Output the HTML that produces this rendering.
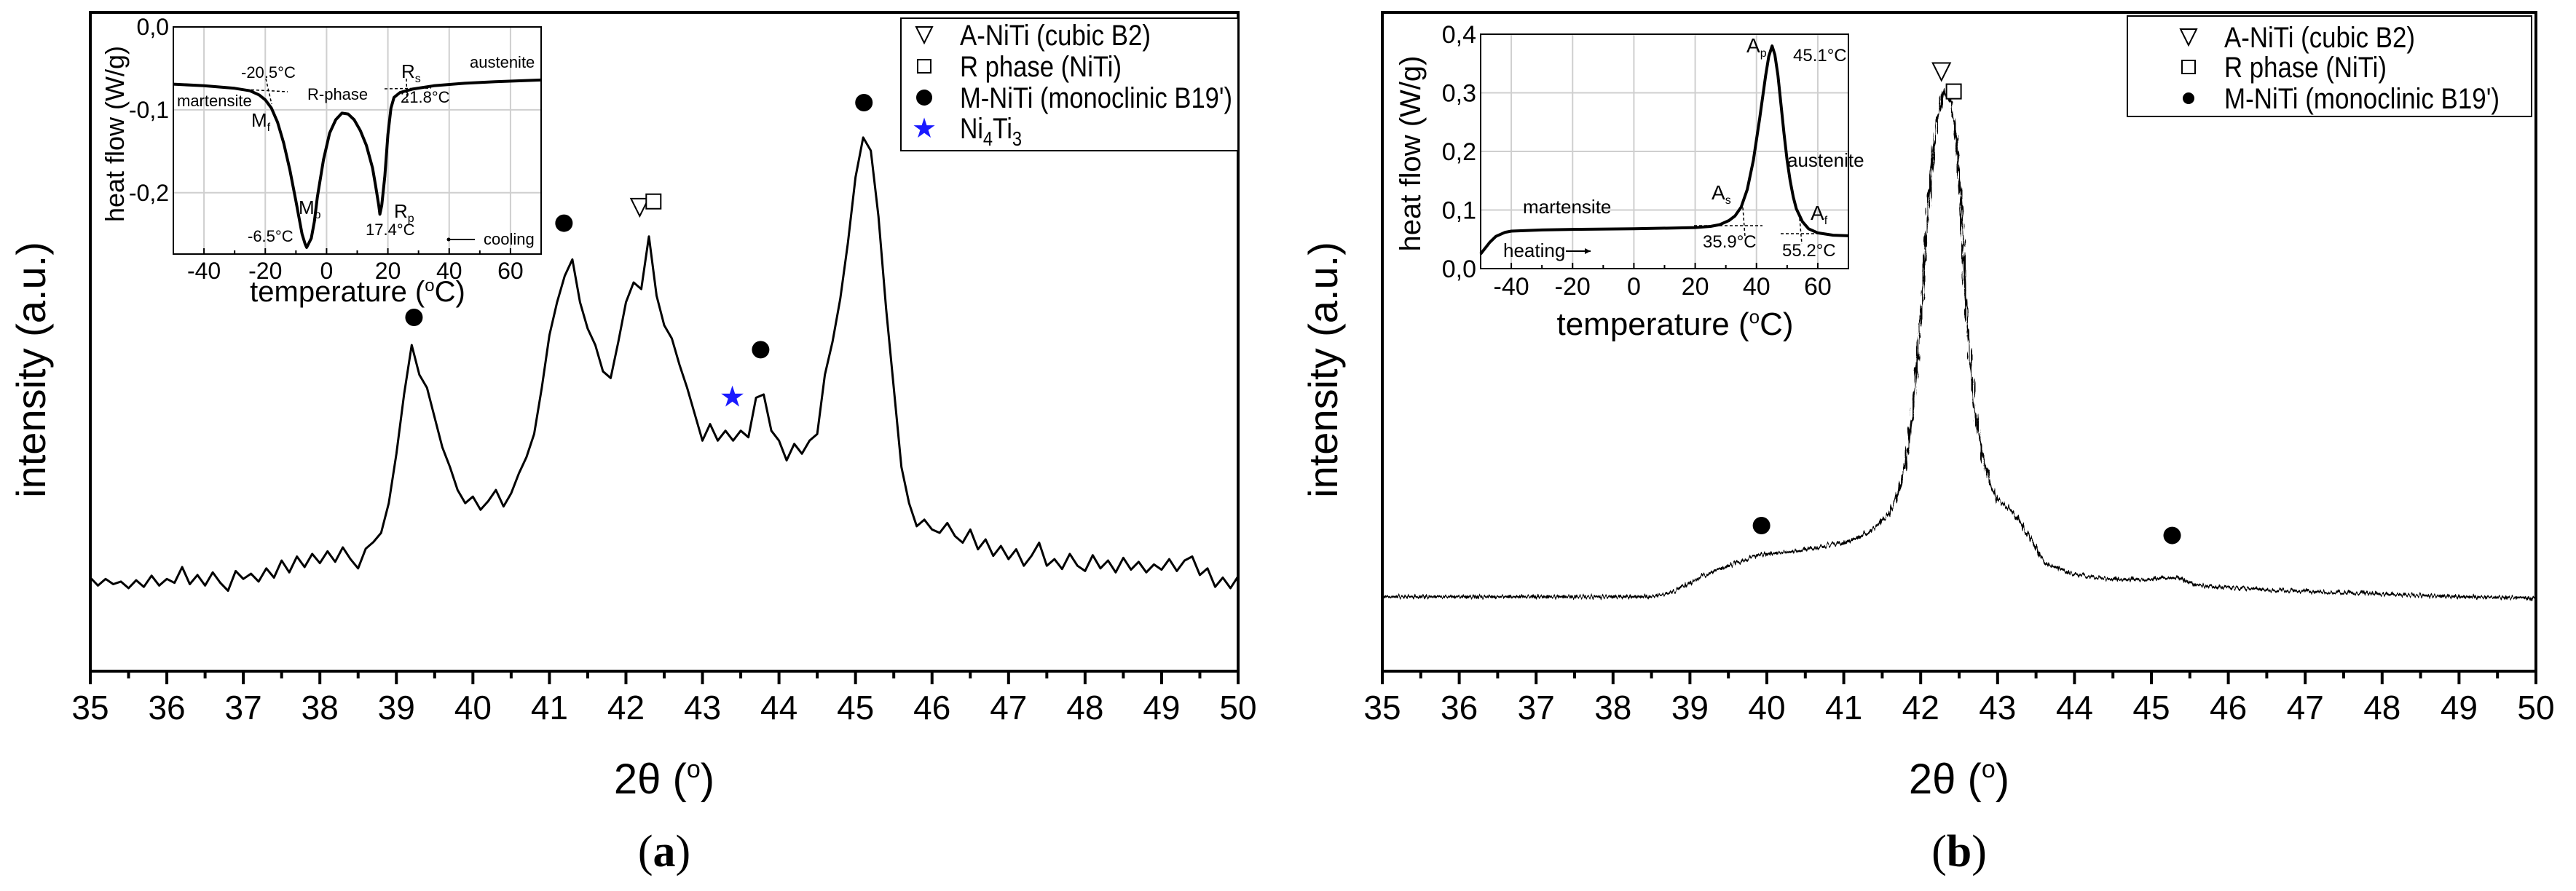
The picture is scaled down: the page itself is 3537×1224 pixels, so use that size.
<!DOCTYPE html>
<html><head><meta charset="utf-8">
<style>
html,body{margin:0;padding:0;background:#fff;}
svg{display:block;font-family:"Liberation Sans",Arial,sans-serif;}
</style></head>
<body>
<svg id="fig" width="3537" height="1224" viewBox="0 0 3537 1224" xmlns="http://www.w3.org/2000/svg">
<defs>
<filter id="noise" x="-0.02" y="-0.1" width="1.04" height="1.2" filterUnits="objectBoundingBox">
<feTurbulence type="fractalNoise" baseFrequency="0.45 0.05" numOctaves="1" seed="3" result="t"/>
<feDisplacementMap in="SourceGraphic" in2="t" scale="12" xChannelSelector="R" yChannelSelector="G"/>
</filter>
</defs>
</svg>
<script>
// ---- data ----
const tickLabels2Theta = [35,36,37,38,39,40,41,42,43,44,45,46,47,48,49,50];
const thetaA = [];
for (let i = 0; i <= 150; i++) thetaA.push(+(35 + i * 0.1).toFixed(1));
const intensityA = [14.2,13.0,14.0,13.2,13.6,12.6,13.8,12.8,14.5,13.0,
14.0,13.4,15.8,13.2,14.6,13.0,15.0,13.4,12.2,15.2,
14.0,14.8,13.6,15.6,14.2,16.8,15.0,17.4,15.8,17.8,
16.4,18.2,16.6,18.8,17.0,15.6,18.6,19.6,21.0,25.5,
33.0,42.0,49.5,45.0,43.0,38.5,34.0,31.0,27.5,25.5,
26.5,24.5,25.8,27.5,25.0,27.0,30.0,32.5,36.0,43.0,
51.0,56.0,60.0,62.5,56.0,52.0,49.5,45.5,44.5,50.0,
56.0,59.0,58.0,66.0,57.0,52.5,50.5,46.5,43.0,39.0,
35.0,37.5,35.0,36.5,35.0,36.5,35.5,41.5,42.0,36.5,
35.0,32.0,34.5,33.0,35.0,36.0,45.0,50.0,56.5,65.0,
75.0,81.0,79.0,69.0,55.0,43.0,31.0,25.5,22.0,23.0,
21.5,21.0,22.5,20.5,19.5,21.5,18.5,20.0,17.5,19.0,
17.0,18.5,16.0,17.5,19.5,16.0,17.0,15.5,17.8,16.0,
15.2,17.6,15.6,16.8,15.0,17.2,15.4,16.6,15.0,16.2,
15.4,17.0,15.2,16.8,17.4,14.6,15.6,12.8,14.2,12.6,14.4];
const thetaB = [35,36,37,38,38.5,38.8,39.0,39.3,39.6,39.9,40.2,40.5,40.8,41.0,41.2,41.4,41.6,41.7,41.8,41.9,42.0,42.1,42.2,42.3,42.4,42.5,42.6,42.7,42.8,42.9,43.0,43.2,43.4,43.6,43.8,44.0,44.5,45.0,45.3,45.6,46,47,48,49,50];
const intensityB = [11.3,11.3,11.3,11.3,11.3,12.1,13.4,15.1,16.4,17.7,18.0,18.4,19.1,19.6,20.3,21.6,24.2,26.8,31.1,39.7,53.6,70.8,82.9,88.1,86.3,76.0,53.6,39.7,32.8,28.5,26.0,24.2,20.8,16.4,15.6,14.7,13.9,13.9,14.3,13.0,12.7,12.1,11.7,11.3,11.1];
const tickLabelsTemp = [-40,-20,0,20,40,60];
const tempA = [-50,-40,-30,-25,-22,-20,-18,-16,-14,-12,-10,-8,-7,-6.5,-5,-4,-3,-1,1,3,5,7,9,11,13,15,16,17,17.4,18,19,20,21,22,24,28,35,45,55,70];
const heatA = [-0.069,-0.071,-0.074,-0.077,-0.082,-0.088,-0.098,-0.115,-0.140,-0.172,-0.210,-0.250,-0.262,-0.266,-0.255,-0.235,-0.205,-0.160,-0.128,-0.112,-0.104,-0.105,-0.112,-0.125,-0.143,-0.170,-0.192,-0.215,-0.226,-0.215,-0.180,-0.130,-0.098,-0.085,-0.079,-0.075,-0.071,-0.068,-0.066,-0.064];
const tickLabelsHeatA = ["0,0","-0,1","-0,2"];
const tickValuesHeatA = [0,-0.1,-0.2];
const tempB = [-50,-47,-45,-42,-40,-30,-20,0,20,25,28,31,33,35,37,39,41,43,44,45.1,46,47,48,49,50,51,52,53,55,57,60,65,70];
const heatB = [0.025,0.045,0.055,0.062,0.064,0.066,0.067,0.068,0.070,0.072,0.075,0.082,0.090,0.105,0.135,0.185,0.255,0.330,0.362,0.380,0.365,0.330,0.280,0.230,0.185,0.150,0.122,0.102,0.080,0.068,0.061,0.057,0.056];
const tickLabelsHeatB = ["0,0","0,1","0,2","0,3","0,4"];
const tickValuesHeatB = [0,0.1,0.2,0.3,0.4];

const NS = "http://www.w3.org/2000/svg";
const svg = document.getElementById('fig');
function mk(tag, attrs, parent) {
  const e = document.createElementNS(NS, tag);
  for (const k in attrs) e.setAttribute(k, attrs[k]);
  (parent || svg).appendChild(e);
  return e;
}
function txt(x, y, s, size, anchor, parent, extra) {
  const t = mk('text', Object.assign({x: x, y: y, 'font-size': size, 'text-anchor': anchor || 'start', fill: '#000'}, extra || {}), parent);
  t.innerHTML = s;
  return t;
}

function mainPanel(name, x0, x1, thetas, vals, strokeW, filt) {
  const g = mk('g', {});
  
  
  const top = 17, bot = 922;
  const sx = v => x0 + (v - 35) * (x1 - x0) / 15;
  const sy = v => bot - v * 9.05;
  const frame = mk('rect', {x: x0, y: top, width: x1 - x0, height: bot - top, fill: 'none', stroke: '#000', 'stroke-width': 4}, g);
  
  
  for (let v = 35; v <= 50; v += 0.5) {
    const major = Math.abs(v - Math.round(v)) < 1e-6;
    const tk = mk('line', {x1: sx(v), x2: sx(v), y1: bot, y2: bot + (major ? 18 : 10), stroke: '#000', 'stroke-width': 4}, g);
    
    
  }
  tickLabels2Theta.forEach(v => {
    const t = txt(sx(v), 988, v, 46, 'middle', g);
    
    
  });
  let d = '';
  thetas.forEach((t, i) => { d += (i ? 'L' : 'M') + sx(t).toFixed(1) + ',' + sy(vals[i]).toFixed(1); });
  const attrs = {d: d, fill: 'none', stroke: '#000', 'stroke-width': strokeW, 'stroke-linejoin': 'round'};
  if (filt) attrs.filter = 'url(#noise)';
  const line = mk('path', attrs, g);
  
  
  const xt = txt((x0 + x1) / 2, 1090, '2θ (<tspan dy="-22" font-size="34">o</tspan><tspan dy="22">)</tspan>', 58, 'middle', g);
  
  
  const yt = txt(0, 0, 'intensity (a.u.)', 56, 'middle', g, {transform: 'translate(' + (x0 - 62) + ',508) rotate(-90)'});
  
  
  return {g, sx, sy};
}

function circle(p, x, v, nm) {
  const c = mk('circle', {cx: p.sx(x), cy: p.sy(v), r: 12, fill: '#000'}, p.g);
  
  
}
function tri(p, x, v) {
  const X = p.sx(x), Y = p.sy(v);
  const t = mk('path', {d: `M${X-12},${Y-12}L${X+12},${Y-12}L${X},${Y+12}Z`, fill: 'none', stroke: '#000', 'stroke-width': 2}, p.g);
  
  
}
function sq(p, x, v) {
  const X = p.sx(x), Y = p.sy(v);
  const t = mk('rect', {x: X - 10, y: Y - 10, width: 20, height: 20, fill: '#fff', stroke: '#000', 'stroke-width': 2}, p.g);
  
  
}

// Panel A
const pA = mainPanel('panel-a', 124, 1700, thetaA, intensityA, 3, false);
circle(pA, 39.23, 53.7, 'm-niti-marker');
circle(pA, 41.19, 68, 'm-niti-marker');
circle(pA, 43.76, 48.8, 'm-niti-marker');
circle(pA, 45.11, 86.3, 'm-niti-marker');
tri(pA, 42.18, 70.4);
sq(pA, 42.36, 71.3);
const starA = txt(pA.sx(43.39), pA.sy(41.7) + 14, '★', 40, 'middle', pA.g, {fill: '#1a1aff'});



// Panel B
const pB = mainPanel('panel-b', 1898, 3482, thetaB, intensityB, 3, true);
circle(pB, 39.93, 22.1, 'm-niti-marker');
circle(pB, 45.27, 20.6, 'm-niti-marker');
tri(pB, 42.27, 91);
sq(pB, 42.43, 88);

// Legends
function legend(name, x, y, w, h, items, tx, sxp) {
  const g = mk('g', {});
  
  
  mk('rect', {x: x, y: y, width: w, height: h, fill: '#fff', stroke: '#000', 'stroke-width': 2}, g);
  items.forEach(it => {
    const e = mk('g', {}, g);
    
    
    const Y = it.y;
    if (it.s === 'tri') mk('path', {d: `M${sxp-11},${Y-11}L${sxp+11},${Y-11}L${sxp},${Y+11}Z`, fill: 'none', stroke: '#000', 'stroke-width': 2}, e);
    if (it.s === 'sq') mk('rect', {x: sxp - 9, y: Y - 9, width: 18, height: 18, fill: 'none', stroke: '#000', 'stroke-width': 2}, e);
    if (it.s === 'dot') mk('circle', {cx: sxp, cy: Y, r: it.r || 11, fill: '#000'}, e);
    if (it.s === 'star') txt(sxp, Y + 13, '★', 38, 'middle', e, {fill: '#1a1aff'});
    txt(tx, Y + 14, it.t, 40, 'start', e, {textLength: it.w, lengthAdjust: 'spacingAndGlyphs'});
  });
}
legend('legend-a', 1237, 25, 463, 182, [
  {s: 'tri', y: 48, t: 'A-NiTi (cubic B2)', w: 262},
  {s: 'sq', y: 91, t: 'R phase (NiTi)', w: 222},
  {s: 'dot', y: 134, t: 'M-NiTi (monoclinic B19\')', w: 374},
  {s: 'star', y: 176, t: 'Ni<tspan font-size="28" dy="10">4</tspan><tspan dy="-10">Ti</tspan><tspan font-size="28" dy="10">3</tspan>', w: 85}
], 1318, 1269);
legend('legend-b', 2921, 22, 555, 138, [
  {s: 'tri', y: 51, t: 'A-NiTi (cubic B2)', w: 262},
  {s: 'sq', y: 92, t: 'R phase (NiTi)', w: 223},
  {s: 'dot', y: 135, t: 'M-NiTi (monoclinic B19\')', r: 8, w: 378}
], 3054, 3005);

// Insets
function inset(name, L, R, T, B, ymin, ymax, yVals, yLabs, temps, heats, labelFs) {
  const g = mk('g', {});
  
  
  const sx = v => L + (v + 50) * (R - L) / 120;
  const sy = v => B - (v - ymin) * (B - T) / (ymax - ymin);
  mk('rect', {x: L, y: T, width: R - L, height: B - T, fill: '#fff'}, g);
  for (let v = -40; v <= 60; v += 20) {
    const gl = mk('line', {x1: sx(v), x2: sx(v), y1: T, y2: B, stroke: '#cfcfcf', 'stroke-width': 2}, g);
    
    
  }
  yVals.forEach(v => {
    const gl = mk('line', {x1: L, x2: R, y1: sy(v), y2: sy(v), stroke: '#cfcfcf', 'stroke-width': 2}, g);
    
    
  });
  mk('rect', {x: L, y: T, width: R - L, height: B - T, fill: 'none', stroke: '#000', 'stroke-width': 2}, g);
  for (let v = -50; v <= 70; v += 10) mk('line', {x1: sx(v), x2: sx(v), y1: B, y2: B - (v % 20 === 0 && v !== -50 && v!==70 ? 8 : 5), stroke: '#000', 'stroke-width': 2}, g);
  tickLabelsTemp.forEach(v => {
    const t = txt(sx(v), B + labelFs + 2, v, labelFs, 'middle', g);
    
    
  });
  yVals.forEach((v, i) => {
    const t = txt(L - 6, sy(v) + labelFs * 0.35, yLabs[i], labelFs, 'end', g);
    
    
  });
  let d = '';
  temps.forEach((t, i) => { d += (i ? 'L' : 'M') + sx(t).toFixed(1) + ',' + sy(heats[i]).toFixed(1); });
  const c = mk('path', {d: d, fill: 'none', stroke: '#000', 'stroke-width': 4, 'stroke-linejoin': 'round'}, g);
  
  
  return {g, sx, sy};
}
const iA = inset('inset-a-dsc', 238, 743, 37, 349, -0.274, 0, tickValuesHeatA, tickLabelsHeatA, tempA, heatA, 32);
let t;
t = txt(491, 414, 'temperature (<tspan dy="-14" font-size="24">o</tspan><tspan dy="14">C)</tspan>', 40, 'middle', iA.g);
 
t = txt(0, 0, 'heat flow (W/g)', 36, 'middle', iA.g, {transform: 'translate(170,184) rotate(-90)'});
 
const annA = iA.g;
[[331,107,'-20.5°C'],[243,146,'martensite'],[422,137,'R-phase'],[551,107,'R<tspan font-size="16" dy="6">s</tspan>'],[550,141,'21.8°C'],[645,93,'austenite'],[345,174,'M<tspan font-size="16" dy="6">f</tspan>'],[410,294,'M<tspan font-size="16" dy="6">p</tspan>'],[541,299,'R<tspan font-size="16" dy="6">p</tspan>'],[340,332,'-6.5°C'],[502,323,'17.4°C'],[664,336,'cooling']].forEach(a => {
  const e = txt(a[0], a[1], a[2], a[2].length < 4 || a[2].startsWith('M<') || a[2].startsWith('R<') ? 26 : 22, 'start', annA);
   
});
mk('line', {x1: 616, x2: 652, y1: 329, y2: 329, stroke: '#000', 'stroke-width': 2}, annA);
mk('circle', {cx: 616, cy: 329, r: 2.5, fill: '#000'}, annA);
mk('path', {d: 'M338,123L395,126M365,108L373,143M528,122L592,121M558,108L559,142', stroke: '#000', 'stroke-width': 1.5, 'stroke-dasharray': '4,3', fill: 'none'}, annA);

const iB = inset('inset-b-dsc', 2033, 2538, 47, 369, 0, 0.4, tickValuesHeatB, tickLabelsHeatB, tempB, heatB, 34);
t = txt(2300, 460, 'temperature (<tspan dy="-16" font-size="26">o</tspan><tspan dy="16">C)</tspan>', 44, 'middle', iB.g);
 
t = txt(0, 0, 'heat flow (W/g)', 40, 'middle', iB.g, {transform: 'translate(1950,211) rotate(-90)'});
 
[[2398,72,'A<tspan font-size="16" dy="6">p</tspan>',28],[2462,84,'45.1°C',24],[2454,229,'austenite',26],[2350,274,'A<tspan font-size="16" dy="6">s</tspan>',28],[2091,293,'martensite',26],[2486,302,'A<tspan font-size="16" dy="6">f</tspan>',28],[2338,340,'35.9°C',24],[2447,352,'55.2°C',24],[2064,353,'heating',26]].forEach(a => {
  const e = txt(a[0], a[1], a[2], a[3], 'start', iB.g);
   
});
mk('line', {x1: 2150, x2: 2184, y1: 345, y2: 345, stroke: '#000', 'stroke-width': 2}, iB.g);
mk('path', {d: 'M2184,345L2176,341L2176,349Z', fill: '#000'}, iB.g);
mk('path', {d: 'M2326,310L2420,310M2393,285L2396,325M2445,321L2500,321M2471,300L2474,335', stroke: '#000', 'stroke-width': 1.5, 'stroke-dasharray': '4,3', fill: 'none'}, iB.g);

// panel captions
t = txt(912, 1190, '(<tspan font-weight="bold">a</tspan>)', 62, 'middle', svg, {'font-family': '"Liberation Serif",serif'});
 
t = txt(2690, 1190, '(<tspan font-weight="bold">b</tspan>)', 62, 'middle', svg, {'font-family': '"Liberation Serif",serif'});
 
</script>
</body></html>
